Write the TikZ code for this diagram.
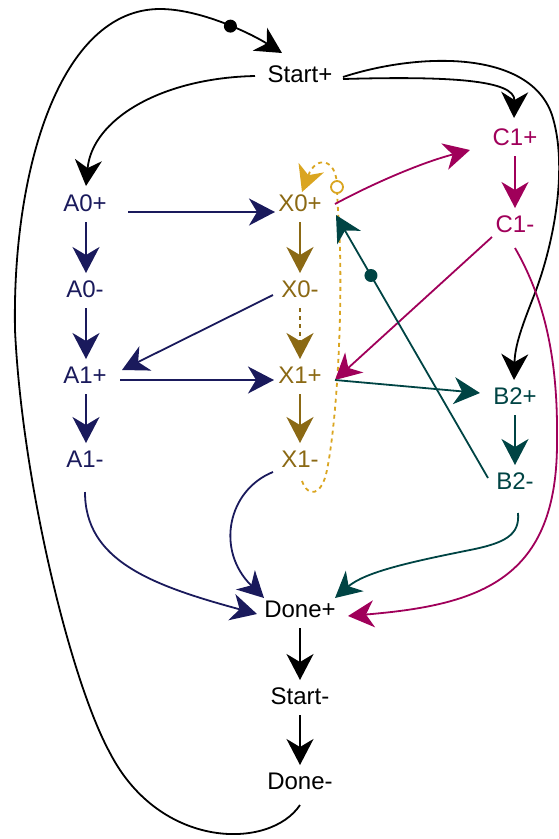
\documentclass[tikz,border=0pt]{standalone}
\usepackage{fontspec}
\setmainfont{Liberation Sans}
\usetikzlibrary{arrows.meta}

\definecolor{navyc}{HTML}{1A1A5C}
\definecolor{goldc}{HTML}{8B6914}
\definecolor{lgoldc}{HTML}{DAA520}
\definecolor{magc}{HTML}{A0005A}
\definecolor{tealc}{HTML}{004444}

\tikzset{
  lbl/.style={inner sep=0pt, font=\fontsize{24}{26}\selectfont,
              text height=17.2pt, text depth=0pt},
  edge/.style={line width=1.8pt, -{Stealth[length=26pt,width=27pt,inset=8pt]}},
  dotline/.style={dash pattern=on 4pt off 4pt},
  dotmark/.style={circle, fill, inner sep=0pt, minimum size=13pt},
  odotmark/.style={circle, draw, solid, fill=white, line width=1.8pt, inner sep=0pt, minimum size=12pt},
}

\begin{document}
\begin{tikzpicture}[x=1pt,y=-1pt]
\useasboundingbox (0,0) rectangle (559,839);

% signal transition nodes
\node[lbl] (sp)  at (300,74)  {Start+};
\node[lbl, text=navyc] (a0p) at (85,203) {A0+};
\node[lbl, text=navyc] (a0m) at (85,289) {A0-};
\node[lbl, text=navyc] (a1p) at (85,375) {A1+};
\node[lbl, text=navyc] (a1m) at (85,459) {A1-};
\node[lbl, text=goldc] (x0p) at (300,203) {X0+};
\node[lbl, text=goldc] (x0m) at (300,289) {X0-};
\node[lbl, text=goldc] (x1p) at (300,375) {X1+};
\node[lbl, text=goldc] (x1m) at (300,459) {X1-};
\node[lbl, text=magc] (c1p) at (515,137) {C1+};
\node[lbl, text=magc] (c1m) at (515,224) {C1-};
\node[lbl, text=tealc] (b2p) at (515,396) {B2+};
\node[lbl, text=tealc] (b2m) at (515,481) {B2-};
\node[lbl] (dp) at (300,609) {Done+};
\node[lbl] (sm) at (300,696) {Start-};
\node[lbl] (dm) at (300,781) {Done-};

% black edges
\draw[edge] ([shift={(-45,2)}]sp.center) .. controls (160,78) and (92,120) .. ([shift={(1,-17)}]a0p.center);
\draw[edge] ([shift={(43,5)}]sp.center) .. controls (450,76) and (515,80) .. ([shift={(-1,-19)}]c1p.center);
\draw[edge] ([shift={(43,3)}]sp.center) .. controls (420,52) and (530,50) .. (552,115)
   .. controls (568,165) and (555,240) .. (535,293)
   .. controls (522,326) and (515,345) .. ([shift={(-1,-16)}]b2p.center);
\draw[edge] ([shift={(0,19)}]dp.center) -- ([shift={(0,-16)}]sm.center);
\draw[edge] ([shift={(0,19)}]sm.center) -- ([shift={(0,-16)}]dm.center);
\draw[edge] ([shift={(0,24)}]dm.center) .. controls (270,850) and (160,850) .. (110,753)
   .. controls (70,680) and (22,480) .. (15,330)
   .. controls (12,170) and (60,9) .. (160,9)
   .. controls (200,9) and (250,33) .. node[dotmark, pos=0.55] {} ([shift={(-18,-21)}]sp.center);

% navy edges
\begin{scope}[navyc]
\draw[edge] ([shift={(1,19)}]a0p.center) -- ([shift={(1,-16)}]a0m.center);
\draw[edge] ([shift={(1,19)}]a0m.center) -- ([shift={(1,-16)}]a1p.center);
\draw[edge] ([shift={(1,19)}]a1p.center) -- ([shift={(1,-16)}]a1m.center);
\draw[edge] ([shift={(43,9)}]a0p.center) -- ([shift={(-25,9)}]x0p.center);
\draw[edge] ([shift={(35,5)}]a1p.center) -- ([shift={(-26,5)}]x1p.center);
\draw[edge] ([shift={(-27,6)}]x0m.center) -- ([shift={(37,-5)}]a1p.center);
\draw[edge] ([shift={(0,33)}]a1m.center) .. controls (85,560) and (150,585) .. ([shift={(-43,5)}]dp.center);
\draw[edge] ([shift={(-27,13)}]x1m.center) .. controls (228,490) and (215,550) .. ([shift={(-36,-11)}]dp.center);
\end{scope}

% gold edges
\begin{scope}[goldc]
\draw[edge] ([shift={(0,19)}]x0p.center) -- ([shift={(0,-16)}]x0m.center);
\draw[edge, dotline] ([shift={(0,19)}]x0m.center) -- ([shift={(0,-16)}]x1p.center);
\draw[edge] ([shift={(0,19)}]x1p.center) -- ([shift={(0,-16)}]x1m.center);
\end{scope}
\draw[edge, dotline, lgoldc] ([shift={(2,22)}]x1m.center) .. controls (308,498) and (322,496) .. (327,470)
   .. controls (336,425) and (342,330) .. (340,250)
   .. controls (339,220) and (337,200) .. (337,187) node[odotmark] {}
   .. controls (337,158) and (316,155) .. ([shift={(2,-11)}]x0p.center);

% magenta edges
\begin{scope}[magc]
\draw[edge] ([shift={(35,1)}]x0p.center) .. controls (370,185) and (420,163) .. ([shift={(-45,13)}]c1p.center);
\draw[edge] ([shift={(0,19)}]c1p.center) -- ([shift={(0,-16)}]c1m.center);
\draw[edge] ([shift={(-23,13)}]c1m.center) -- ([shift={(35,5)}]x1p.center);
\draw[edge] ([shift={(0,24)}]c1m.center) .. controls (545,300) and (558,360) .. (557,440)
   .. controls (558,580) and (480,605) .. ([shift={(48,7)}]dp.center);
\end{scope}

% teal edges
\begin{scope}[tealc]
\draw[edge] ([shift={(35,5)}]x1p.center) -- ([shift={(-35,-3)}]b2p.center);
\draw[edge] ([shift={(0,19)}]b2p.center) -- ([shift={(0,-16)}]b2m.center);
\draw[edge] ([shift={(-27,-3)}]b2m.center) -- node[dotmark, pos=0.77] {} ([shift={(36,12)}]x0p.center);
\draw[edge] ([shift={(3,32)}]b2m.center) .. controls (520,535) and (505,543) .. (470,550)
   .. controls (410,562) and (365,572) .. ([shift={(35,-11)}]dp.center);
\end{scope}
\end{tikzpicture}
\end{document}
